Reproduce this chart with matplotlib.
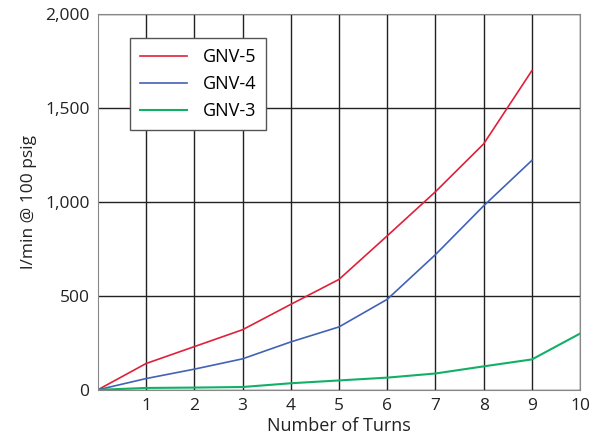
import matplotlib.pyplot as plt

# data
turns = [0, 1, 2, 3, 4, 5, 6, 7, 8, 9]
turns_gnv3 = [0, 1, 2, 3, 4, 5, 6, 7, 8, 9, 10]
gnv5 = [0, 140, 230, 320, 455, 588, 820, 1055, 1310, 1700]
gnv4 = [0, 60, 110, 165, 255, 335, 482, 720, 980, 1222]
gnv3 = [0, 10, 12, 15, 35, 50, 65, 87, 125, 162, 300]

plt.rcParams['font.family'] = ['Open Sans', 'DejaVu Sans']

fig = plt.figure(figsize=(6, 4.44), dpi=100)
ax = fig.add_axes([0.163, 0.122, 0.804, 0.846])

ax.plot(turns, gnv5, color='#e0203a', lw=1.2, label='GNV-5')
ax.plot(turns, gnv4, color='#4262b6', lw=1.2, label='GNV-4')
ax.plot(turns_gnv3, gnv3, color='#12b066', lw=1.5, label='GNV-3')

ax.set_xlim(0, 10)
ax.set_ylim(0, 2000)
ax.set_xticks(range(1, 11))
ax.set_yticks([0, 500, 1000, 1500, 2000])
ax.set_yticklabels(['0', '500', '1,000', '1,500', '2,000'])
ax.grid(True, color='#222222', lw=1)
ax.set_axisbelow(True)
for s in ax.spines.values():
    s.set_color('#888888')
ax.tick_params(length=0, labelsize=12.5, pad=6, colors='#222222')

ax.set_xlabel('Number of Turns', fontsize=13, color='#222222', labelpad=2)
ax.set_ylabel('l/min @ 100 psig', fontsize=12.5, color='#222222', labelpad=6)

leg = ax.legend(loc='upper left', bbox_to_anchor=(0.066, 0.936), fontsize=13,
                borderaxespad=0, fancybox=False, framealpha=1,
                edgecolor='#555555', handlelength=2.6, handletextpad=0.9,
                borderpad=0.55, labelspacing=0.5)
leg.get_frame().set_linewidth(1)

fig.savefig('out.png', dpi=100)
